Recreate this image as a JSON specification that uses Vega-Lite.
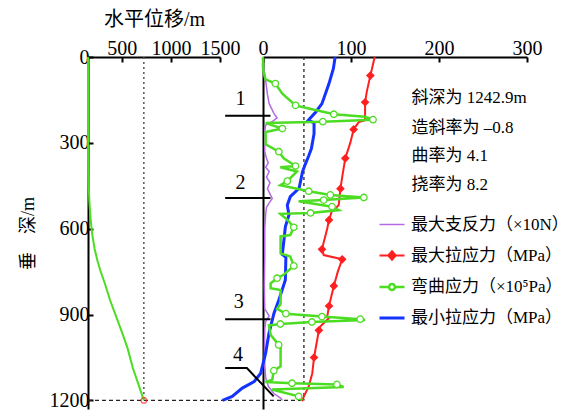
{
  "$schema": "https://vega.github.io/schema/vega-lite/v6.json",
  "background": "white",
  "padding": {"left": 19, "top": 9, "right": 0, "bottom": 0},
  "bounds": "flush",
  "spacing": 43,
  "config": {
    "view": {"stroke": null},
    "font": "Liberation Serif, Noto Sans CJK SC",
    "axis": {
      "domainColor": "black", "domainWidth": 2, "tickColor": "black", "tickWidth": 2, "tickSize": -5,
      "labelColor": "black", "labelFontSize": 20, "labelFont": "Liberation Serif", "labelPadding": 4,
      "labelFlush": false, "labelOverlap": false, "labelBound": false,
      "grid": false, "titleColor": "black", "titleFontWeight": "normal", "format": "d",
      "titleFont": "Liberation Serif, Noto Sans CJK SC"
    }
  },
  "datasets": {
    "disp": [
      {"h": 155, "d": 0}, {"h": 155, "d": 200}, {"h": 156, "d": 350}, {"h": 160, "d": 430}, {"h": 168, "d": 500},
      {"h": 180, "d": 560}, {"h": 198, "d": 620}, {"h": 222, "d": 670}, {"h": 250, "d": 710}, {"h": 280, "d": 745},
      {"h": 330, "d": 795}, {"h": 380, "d": 850}, {"h": 445, "d": 910}, {"h": 510, "d": 970}, {"h": 560, "d": 1020},
      {"h": 612, "d": 1087}, {"h": 670, "d": 1145}, {"h": 724, "d": 1200}
    ],
    "stress": [
      {"s": "P", "v": 1, "d": 40}, {"s": "P", "v": 3, "d": 82}, {"s": "P", "v": 5, "d": 130}, {"s": "P", "v": 7, "d": 163},
      {"s": "P", "v": 12.5, "d": 198}, {"s": "P", "v": 16, "d": 213}, {"s": "P", "v": 10.5, "d": 226}, {"s": "P", "v": 3, "d": 238},
      {"s": "P", "v": 2, "d": 260}, {"s": "P", "v": 2, "d": 330}, {"s": "P", "v": 4, "d": 355}, {"s": "P", "v": 6, "d": 370},
      {"s": "P", "v": 3, "d": 385}, {"s": "P", "v": 7, "d": 400}, {"s": "P", "v": 4, "d": 420}, {"s": "P", "v": 8, "d": 440},
      {"s": "P", "v": 5, "d": 460}, {"s": "P", "v": 10.5, "d": 494}, {"s": "P", "v": 7, "d": 510}, {"s": "P", "v": 4, "d": 525},
      {"s": "P", "v": 3, "d": 550}, {"s": "P", "v": 2, "d": 600}, {"s": "P", "v": 2, "d": 700}, {"s": "P", "v": 1.5, "d": 800},
      {"s": "P", "v": 2, "d": 880}, {"s": "P", "v": 7, "d": 905}, {"s": "P", "v": 3, "d": 925}, {"s": "P", "v": 2, "d": 950},
      {"s": "P", "v": 1.5, "d": 1050}, {"s": "P", "v": 3, "d": 1120}, {"s": "P", "v": 6, "d": 1150}, {"s": "P", "v": 12, "d": 1175},
      {"s": "P", "v": 20, "d": 1192}, {"s": "P", "v": 22, "d": 1200},

      {"s": "B", "v": 82, "d": 0}, {"s": "B", "v": 80, "d": 40}, {"s": "B", "v": 75, "d": 93}, {"s": "B", "v": 67, "d": 163},
      {"s": "B", "v": 60, "d": 192}, {"s": "B", "v": 51.5, "d": 221}, {"s": "B", "v": 58, "d": 230}, {"s": "B", "v": 58, "d": 268},
      {"s": "B", "v": 55, "d": 320}, {"s": "B", "v": 52, "d": 345}, {"s": "B", "v": 48, "d": 375}, {"s": "B", "v": 45, "d": 400},
      {"s": "B", "v": 41, "d": 459}, {"s": "B", "v": 31, "d": 488}, {"s": "B", "v": 27.6, "d": 518}, {"s": "B", "v": 29.5, "d": 552},
      {"s": "B", "v": 25.4, "d": 593}, {"s": "B", "v": 23.8, "d": 640}, {"s": "B", "v": 21.9, "d": 690}, {"s": "B", "v": 26, "d": 700},
      {"s": "B", "v": 25.4, "d": 779}, {"s": "B", "v": 18, "d": 849}, {"s": "B", "v": 12.5, "d": 895}, {"s": "B", "v": 6.8, "d": 965},
      {"s": "B", "v": 3, "d": 1035}, {"s": "B", "v": -2.6, "d": 1105}, {"s": "B", "v": -10, "d": 1134}, {"s": "B", "v": -23.5, "d": 1157},
      {"s": "B", "v": -35, "d": 1186}, {"s": "B", "v": -46, "d": 1200},

      {"s": "R", "v": 127, "d": 0}, {"s": "R", "v": 126, "d": 12}, {"s": "R", "v": 122, "d": 65, "m": 1}, {"s": "R", "v": 118, "d": 120},
      {"s": "R", "v": 116, "d": 158, "m": 1}, {"s": "R", "v": 116, "d": 221}, {"s": "R", "v": 109, "d": 227}, {"s": "R", "v": 103, "d": 253, "m": 1},
      {"s": "R", "v": 99, "d": 302}, {"s": "R", "v": 93.5, "d": 354, "m": 1}, {"s": "R", "v": 90, "d": 420}, {"s": "R", "v": 88, "d": 460, "m": 1},
      {"s": "R", "v": 86, "d": 518}, {"s": "R", "v": 78, "d": 541}, {"s": "R", "v": 75, "d": 570, "m": 1}, {"s": "R", "v": 73, "d": 599},
      {"s": "R", "v": 67, "d": 672, "m": 1}, {"s": "R", "v": 69, "d": 692}, {"s": "R", "v": 90, "d": 707, "m": 1}, {"s": "R", "v": 85, "d": 750},
      {"s": "R", "v": 80.5, "d": 800, "m": 1}, {"s": "R", "v": 75, "d": 870, "m": 1}, {"s": "R", "v": 73, "d": 907}, {"s": "R", "v": 75, "d": 912},
      {"s": "R", "v": 65, "d": 942}, {"s": "R", "v": 63.5, "d": 955, "m": 1}, {"s": "R", "v": 58, "d": 1050, "m": 1}, {"s": "R", "v": 56, "d": 1105},
      {"s": "R", "v": 52, "d": 1151}, {"s": "R", "v": 46.5, "d": 1186}, {"s": "R", "v": 44.5, "d": 1203},

      {"s": "G", "v": 0, "d": 0}, {"s": "G", "v": 0, "d": 40}, {"s": "G", "v": 2, "d": 70}, {"s": "G", "v": 3, "d": 78},
      {"s": "G", "v": 14, "d": 93, "m": 1}, {"s": "G", "v": 22, "d": 128}, {"s": "G", "v": 37, "d": 169, "m": 1}, {"s": "G", "v": 52, "d": 180},
      {"s": "G", "v": 80.5, "d": 200, "m": 1}, {"s": "G", "v": 116, "d": 209}, {"s": "G", "v": 125, "d": 219, "m": 1}, {"s": "G", "v": 68, "d": 226, "m": 1},
      {"s": "G", "v": 3, "d": 231}, {"s": "G", "v": 22, "d": 250, "m": 1}, {"s": "G", "v": 3, "d": 262}, {"s": "G", "v": 3, "d": 305},
      {"s": "G", "v": 18, "d": 331, "m": 1}, {"s": "G", "v": 23.5, "d": 354}, {"s": "G", "v": 37, "d": 381, "m": 1}, {"s": "G", "v": 19.7, "d": 385},
      {"s": "G", "v": 38.6, "d": 400}, {"s": "G", "v": 27.6, "d": 434, "m": 1}, {"s": "G", "v": 19.7, "d": 448}, {"s": "G", "v": 52, "d": 469, "m": 1},
      {"s": "G", "v": 76.5, "d": 482, "m": 1}, {"s": "G", "v": 114.6, "d": 491, "m": 1}, {"s": "G", "v": 69, "d": 500, "m": 1}, {"s": "G", "v": 40.5, "d": 504},
      {"s": "G", "v": 78.5, "d": 523, "m": 1}, {"s": "G", "v": 86, "d": 535}, {"s": "G", "v": 54, "d": 545, "m": 1}, {"s": "G", "v": 19.7, "d": 548},
      {"s": "G", "v": 28, "d": 570}, {"s": "G", "v": 35, "d": 595, "m": 1}, {"s": "G", "v": 31, "d": 622}, {"s": "G", "v": 20, "d": 627},
      {"s": "G", "v": 20, "d": 686}, {"s": "G", "v": 31, "d": 697}, {"s": "G", "v": 35, "d": 730, "m": 1}, {"s": "G", "v": 23.8, "d": 760},
      {"s": "G", "v": 16, "d": 773, "m": 1}, {"s": "G", "v": 8.7, "d": 791}, {"s": "G", "v": 8.7, "d": 808}, {"s": "G", "v": 20, "d": 814},
      {"s": "G", "v": 20, "d": 863}, {"s": "G", "v": 16, "d": 880}, {"s": "G", "v": 26, "d": 897, "m": 1}, {"s": "G", "v": 67, "d": 907, "m": 1},
      {"s": "G", "v": 110.5, "d": 916, "m": 1}, {"s": "G", "v": 116, "d": 919}, {"s": "G", "v": 55.6, "d": 926, "m": 1}, {"s": "G", "v": 19.7, "d": 933, "m": 1},
      {"s": "G", "v": 6.8, "d": 938}, {"s": "G", "v": 8.7, "d": 971}, {"s": "G", "v": 17.8, "d": 1006, "m": 1}, {"s": "G", "v": 20, "d": 1010},
      {"s": "G", "v": 20, "d": 1081}, {"s": "G", "v": 12.3, "d": 1096, "m": 1}, {"s": "G", "v": 10.5, "d": 1128}, {"s": "G", "v": 2.7, "d": 1136},
      {"s": "G", "v": 33, "d": 1140, "m": 1}, {"s": "G", "v": 84, "d": 1144, "m": 1}, {"s": "G", "v": 91.6, "d": 1153}, {"s": "G", "v": 10, "d": 1162},
      {"s": "G", "v": 40.5, "d": 1186, "m": 1}, {"s": "G", "v": 44.3, "d": 1200}
    ],
    "cuts": [
      {"n": "1", "v": -43, "v2": 8.5, "d": 205, "lv": -25.6, "ld": 147},
      {"n": "2", "v": -43, "v2": 8.5, "d": 493, "lv": -25.6, "ld": 440},
      {"n": "3", "v": -43, "v2": 8.5, "d": 916, "lv": -27.6, "ld": 856}
    ],
    "cut4": [
      {"v": -43, "d": 1087}, {"v": -18.3, "d": 1087}, {"v": 12.1, "d": 1186}
    ],
    "notes": [
      {"v": 168.7, "d": 143, "t": "斜深为 1242.9m"},
      {"v": 168.7, "d": 248, "t": "造斜率为 –0.8"},
      {"v": 168.7, "d": 346, "t": "曲率为 4.1"},
      {"v": 168.7, "d": 447, "t": "挠率为 8.2"}
    ]
  },
  "hconcat": [
    {
      "width": 132,
      "height": 352,
      "encoding": {
        "x": {"field": "h", "type": "quantitative",
              "scale": {"domain": [155, 1500], "nice": false, "zero": false},
              "axis": {"orient": "top", "values": [500, 1000, 1500], "title": "水平位移/m", "titleFontSize": 20, "titlePadding": 9}},
        "y": {"field": "d", "type": "quantitative",
              "scale": {"domain": [0, 1230], "reverse": true, "nice": false, "zero": false},
              "axis": {"values": [0, 300, 600, 900, 1200], "title": "垂　深/m", "titleFontSize": 18, "titlePadding": 12,
                       "labelAlign": "right", "labelBaseline": "middle", "labelFlush": false, "labelBound": false, "labelOverlap": false}}
      },
      "layer": [
        {"data": {"values": [{"h": 724, "d": 0, "d2": 1200}]},
         "mark": {"type": "rule", "color": "#555555", "strokeWidth": 1.5, "strokeDash": [2, 3]},
         "encoding": {"y2": {"field": "d2"}}},
        {"data": {"values": [{"h": 155, "h2": 2356, "d": 1200}]},
         "mark": {"type": "rule", "color": "#222222", "strokeWidth": 1.3, "strokeDash": [4, 3]},
         "encoding": {"x2": {"field": "h2"}}},
        {"data": {"name": "disp"},
         "mark": {"type": "line", "color": "#4cdd22", "strokeWidth": 2},
         "encoding": {"order": {"value": null}}},
        {"data": {"values": [{"h": 724, "d": 1200}]},
         "mark": {"type": "point", "shape": "circle", "color": "#ff2020", "filled": false, "strokeWidth": 1.3, "size": 30}}
      ]
    },
    {
      "width": 264,
      "height": 352,
      "encoding": {
        "x": {"field": "v", "type": "quantitative",
              "scale": {"domain": [0, 300], "nice": false, "zero": false},
              "axis": {"orient": "top", "values": [0, 100, 200, 300], "title": null}},
        "y": {"field": "d", "type": "quantitative",
              "scale": {"domain": [0, 1230], "reverse": true, "nice": false, "zero": false},
              "axis": {"labels": false, "ticks": false, "title": null}}
      },
      "layer": [
        {"data": {"values": [{"v": 46.5, "d": 0, "d2": 1200}]},
         "mark": {"type": "rule", "color": "#222222", "strokeWidth": 1.3, "strokeDash": [3, 3]},
         "encoding": {"y2": {"field": "d2"}}},
        {"data": {"name": "stress"},
         "mark": {"type": "line"},
         "encoding": {
           "order": {"value": null},
           "color": {"field": "s", "type": "nominal",
             "scale": {"domain": ["P", "R", "G", "B"], "range": ["#b46ae4", "#ff1f1f", "#4cdd22", "#1533ff"]},
             "legend": {
               "orient": "none", "legendX": 290, "legendY": 154, "title": null,
               "labelFontSize": 17, "labelFont": "Liberation Serif, Noto Sans CJK SC", "labelColor": "black",
               "labelExpr": "{'P': '最大支反力（×10N）', 'R': '最大拉应力（MPa）', 'G': '弯曲应力（×10⁵Pa）', 'B': '最小拉应力（MPa）'}[datum.label]",
               "symbolSize": 625, "rowPadding": 9, "labelOffset": 5,
               "encode": {"symbols": {"update": {
                 "shape": {"signal": "['M-1,0H1', 'M-1,0H1M0,-0.34L0.3,0L0,0.34L-0.3,0Z', 'M-1,0H-0.24M0.24,0H1M0.24,0A0.24,0.24 0 1 1 -0.24,0A0.24,0.24 0 1 1 0.24,0Z', 'M-1,0H1'][datum.index]"},
                 "fill": {"signal": "['transparent', '#ff1f1f', 'white', 'transparent'][datum.index]"},
                 "stroke": {"signal": "['#b46ae4', '#ff1f1f', '#4cdd22', '#1533ff'][datum.index]"},
                 "strokeWidth": {"signal": "[1.5, 2.5, 1.5, 2.5][datum.index]"},
                 "opacity": {"value": 1}
               }}}
             }},
           "strokeWidth": {"field": "s", "type": "nominal",
             "scale": {"domain": ["P", "R", "G", "B"], "range": [1.5, 3, 1.5, 2.5]}, "legend": null}
         }},
        {"data": {"name": "stress"},
         "transform": [{"filter": "datum.m == 1 && datum.s == 'R'"}],
         "mark": {"type": "point", "shape": "diamond", "filled": true, "color": "#ff1f1f", "size": 75, "opacity": 1}},
        {"data": {"name": "stress"},
         "transform": [{"filter": "datum.m == 1 && datum.s == 'G'"}],
         "mark": {"type": "point", "shape": "circle", "filled": false, "fill": "white", "stroke": "#4cdd22", "strokeWidth": 1.3, "size": 42, "opacity": 1}},
        {"data": {"name": "cuts"},
         "mark": {"type": "rule", "color": "black", "strokeWidth": 2},
         "encoding": {"x2": {"field": "v2"}}},
        {"data": {"name": "cut4"},
         "mark": {"type": "line", "color": "black", "strokeWidth": 2},
         "encoding": {"order": {"value": null}}},
        {"data": {"name": "cuts"},
         "mark": {"type": "text", "fontSize": 20, "font": "Liberation Serif", "color": "black"},
         "encoding": {"x": {"field": "lv", "type": "quantitative"}, "y": {"field": "ld", "type": "quantitative"}, "text": {"field": "n"}}},
        {"data": {"values": [{"n": "4", "lv": -28.4, "ld": 1043}]},
         "mark": {"type": "text", "fontSize": 20, "font": "Liberation Serif", "color": "black"},
         "encoding": {"x": {"field": "lv", "type": "quantitative"}, "y": {"field": "ld", "type": "quantitative"}, "text": {"field": "n"}}},
        {"data": {"name": "notes"},
         "mark": {"type": "text", "fontSize": 17, "align": "left", "baseline": "middle", "color": "black", "font": "Liberation Serif, Noto Sans CJK SC"},
         "encoding": {"text": {"field": "t"}}}
      ]
    }
  ]
}
